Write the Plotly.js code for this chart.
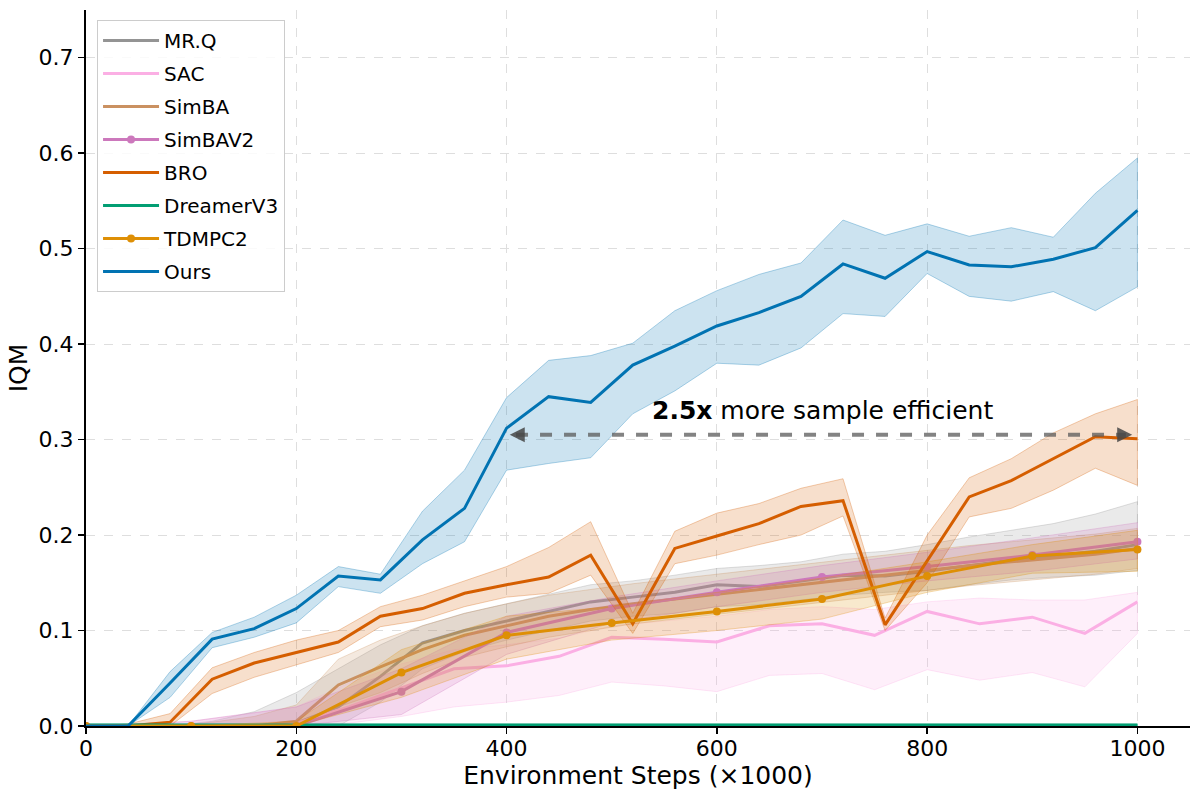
<!DOCTYPE html>
<html>
<head>
<meta charset="utf-8">
<script src="https://cdn.plot.ly/plotly-3.0.1.min.js"></script>
<style>html,body{margin:0;padding:0;background:#fff;}#chart{width:1200px;height:799px;}</style>
</head>
<body>
<div id="chart"></div>
<script>
// ---- Data ----
const steps40 = [0,40,80,120,160,200,240,280,320,360,400,440,480,520,560,600,640,680,720,760,800,840,880,920,960,1000];
const steps50 = [0,50,100,150,200,250,300,350,400,450,500,550,600,650,700,750,800,850,900,950,1000];
const steps100 = [0,100,200,300,400,500,600,700,800,900,1000];

const mrqMean  = [0,0,0,0,0,0.003,0.02,0.052,0.087,0.1,0.11,0.12,0.13,0.135,0.14,0.148,0.146,0.152,0.158,0.157,0.162,0.168,0.174,0.178,0.183,0.19];
const mrqUpper = [0,0,0,0.005,0.015,0.035,0.06,0.085,0.105,0.118,0.128,0.138,0.148,0.152,0.158,0.165,0.168,0.172,0.18,0.183,0.19,0.198,0.205,0.212,0.222,0.235];
const mrqLower = [0,0,0,0,0,0,0,0.025,0.06,0.078,0.09,0.1,0.11,0.115,0.118,0.125,0.127,0.132,0.137,0.14,0.142,0.148,0.153,0.156,0.158,0.163];

const sacMean  = [0,0,0,0,0.003,0.02,0.04,0.06,0.063,0.073,0.093,0.091,0.088,0.105,0.107,0.095,0.12,0.107,0.114,0.097,0.13];
const sacUpper = [0,0,0.005,0.012,0.02,0.045,0.065,0.08,0.085,0.092,0.105,0.11,0.115,0.122,0.125,0.122,0.13,0.134,0.132,0.132,0.14];
const sacLower = [0,0,0,0,0,0.003,0.01,0.02,0.025,0.032,0.046,0.042,0.036,0.053,0.055,0.038,0.059,0.048,0.056,0.041,0.097];

const simbaMean  = [0,0,0,0,0,0.005,0.043,0.062,0.08,0.095,0.105,0.115,0.122,0.128,0.133,0.138,0.143,0.148,0.153,0.158,0.163,0.168,0.172,0.176,0.18,0.186];
const simbaUpper = [0,0,0,0.004,0.01,0.022,0.07,0.09,0.105,0.118,0.128,0.137,0.143,0.149,0.154,0.159,0.164,0.169,0.174,0.179,0.184,0.189,0.193,0.197,0.201,0.207];
const simbaLower = [0,0,0,0,0,0,0.02,0.035,0.055,0.072,0.083,0.093,0.1,0.107,0.112,0.117,0.122,0.127,0.132,0.137,0.142,0.147,0.151,0.155,0.159,0.165];

const simbav2Mean  = [0,0,0,0.036,0.098,0.123,0.14,0.156,0.167,0.179,0.193];
const simbav2Upper = [0,0.005,0.02,0.06,0.115,0.135,0.152,0.168,0.182,0.197,0.213];
const simbav2Lower = [0,0,0,0.012,0.075,0.108,0.125,0.14,0.152,0.162,0.175];

const broMean  = [0,0,0.004,0.049,0.066,0.077,0.088,0.115,0.123,0.139,0.148,0.156,0.179,0.107,0.186,0.199,0.212,0.23,0.236,0.106,0.173,0.24,0.257,0.28,0.303,0.301];
const broUpper = [0,0.002,0.013,0.061,0.077,0.09,0.1,0.125,0.137,0.152,0.167,0.187,0.214,0.118,0.204,0.223,0.233,0.249,0.259,0.113,0.2,0.26,0.28,0.307,0.327,0.342];
const broLower = [0,0,0,0.034,0.051,0.064,0.077,0.104,0.111,0.125,0.135,0.139,0.158,0.097,0.17,0.179,0.19,0.2,0.22,0.1,0.15,0.219,0.228,0.247,0.27,0.252];

const dreamerMean  = [0.001,0.001,0.001,0.001,0.001,0.001,0.001,0.001,0.001,0.001,0.001];
const dreamerUpper = [0.002,0.002,0.002,0.002,0.002,0.002,0.002,0.002,0.002,0.002,0.002];
const dreamerLower = [0,0,0,0,0,0,0,0,0,0,0];

const tdmpcMean  = [0,0,0,0.056,0.095,0.108,0.12,0.133,0.157,0.178,0.185];
const tdmpcUpper = [0,0,0.005,0.08,0.115,0.125,0.14,0.155,0.172,0.19,0.205];
const tdmpcLower = [0,0,0,0.03,0.07,0.09,0.1,0.112,0.14,0.16,0.162];

const oursMean  = [0,0,0.045,0.091,0.102,0.123,0.157,0.153,0.195,0.228,0.312,0.345,0.339,0.378,0.398,0.419,0.433,0.45,0.484,0.469,0.497,0.483,0.481,0.489,0.501,0.540];
const oursUpper = [0,0,0.057,0.098,0.114,0.137,0.167,0.159,0.225,0.268,0.344,0.383,0.388,0.401,0.435,0.456,0.473,0.485,0.530,0.514,0.526,0.513,0.522,0.512,0.558,0.595];
const oursLower = [0,0,0.03,0.082,0.093,0.108,0.146,0.139,0.17,0.193,0.268,0.275,0.281,0.327,0.351,0.38,0.378,0.396,0.432,0.429,0.474,0.45,0.445,0.455,0.435,0.46];

// annotation
const arrowStart = 403, arrowEnd = 995, arrowLevel = 0.305;
const annoX = 700, annoY = 0.331;

// ---- Styling ----
const FONT = '"DejaVu Sans", "Liberation Sans", sans-serif';
function rgba(hex, a){
  const r = parseInt(hex.slice(1,3),16), g = parseInt(hex.slice(3,5),16), b = parseInt(hex.slice(5,7),16);
  return `rgba(${r},${g},${b},${a})`;
}

const series = [
  {name:'MR.Q',      x:steps40,  m:mrqMean,     u:mrqUpper,     l:mrqLower,     c:'#949494', mk:false},
  {name:'SAC',       x:steps50,  m:sacMean,     u:sacUpper,     l:sacLower,     c:'#fbafe4', mk:false},
  {name:'SimBA',     x:steps40,  m:simbaMean,   u:simbaUpper,   l:simbaLower,   c:'#ca9161', mk:false},
  {name:'SimBAV2',   x:steps100, m:simbav2Mean, u:simbav2Upper, l:simbav2Lower, c:'#cc78bc', mk:true},
  {name:'BRO',       x:steps40,  m:broMean,     u:broUpper,     l:broLower,     c:'#d55e00', mk:false},
  {name:'DreamerV3', x:steps100, m:dreamerMean, u:dreamerUpper, l:dreamerLower, c:'#029e73', mk:false},
  {name:'TDMPC2',    x:steps100, m:tdmpcMean,   u:tdmpcUpper,   l:tdmpcLower,   c:'#de8f05', mk:true},
  {name:'Ours',      x:steps40,  m:oursMean,    u:oursUpper,    l:oursLower,    c:'#0173b2', mk:false}
];

const traces = [];
series.forEach(s => {
  traces.push({
    type:'scatter', mode:'lines',
    x: s.x.concat(s.x.slice().reverse()),
    y: s.u.concat(s.l.slice().reverse()),
    fill:'toself', fillcolor: rgba(s.c, 0.2),
    line:{color: rgba(s.c, 0.3), width:1},
    showlegend:false, hoverinfo:'skip', legendgroup:s.name
  });
  traces.push({
    type:'scatter', mode: s.mk ? 'lines+markers' : 'lines',
    name: s.name, x: s.x, y: s.m,
    line:{color:s.c, width:3},
    marker:{color:s.c, size:8},
    legendgroup:s.name
  });
});

const layout = {
  width:1200, height:799,
  margin:{l:86, r:10, t:10, b:73},
  paper_bgcolor:'#fff', plot_bgcolor:'#fff',
  font:{family:FONT, size:20, color:'#000'},
  showlegend:true,
  legend:{
    x:0.01, y:0.986, xanchor:'left', yanchor:'top',
    bgcolor:'rgba(255,255,255,0.85)', bordercolor:'#cccccc', borderwidth:1,
    font:{family:FONT, size:20, color:'#000'},
    tracegroupgap:4, itemwidth:56
  },
  xaxis:{
    range:[0,1050], tickvals:[0,200,400,600,800,1000],
    showline:true, linecolor:'#000', linewidth:2,
    ticks:'outside', ticklen:6, tickwidth:1.5, tickcolor:'#000',
    showgrid:true, gridcolor:'#dedede', griddash:'dash', gridwidth:1,
    zeroline:false, ticklabelstandoff:-4,
    tickfont:{family:FONT, size:22, color:'#000'},
    title:{text:'Environment Steps (×1000)', font:{family:FONT, size:25, color:'#000'}, standoff:4}
  },
  yaxis:{
    range:[0,0.75], tickvals:[0,0.1,0.2,0.3,0.4,0.5,0.6,0.7], tickformat:'.1f',
    showline:true, linecolor:'#000', linewidth:2,
    ticks:'outside', ticklen:6, tickwidth:1.5, tickcolor:'#000',
    showgrid:true, gridcolor:'#dedede', griddash:'dash', gridwidth:1,
    zeroline:false,
    tickfont:{family:FONT, size:22, color:'#000'},
    title:{text:'IQM', font:{family:FONT, size:25, color:'#000'}, standoff:4}
  },
  shapes:[{
    type:'line', xref:'x', yref:'y', x0:arrowStart+6, x1:arrowEnd-6, y0:arrowLevel, y1:arrowLevel,
    line:{color:'rgba(90,90,90,0.75)', width:4, dash:'dash'}, layer:'above'
  }],
  annotations:[
    {x:arrowStart, y:arrowLevel, xref:'x', yref:'y', ax:12, ay:0, text:'', showarrow:true,
     arrowhead:2, arrowsize:1, arrowwidth:3, arrowcolor:'rgba(70,70,70,0.85)'},
    {x:arrowEnd, y:arrowLevel, xref:'x', yref:'y', ax:-12, ay:0, text:'', showarrow:true,
     arrowhead:2, arrowsize:1, arrowwidth:3, arrowcolor:'rgba(70,70,70,0.85)'},
    {x:annoX, y:annoY, xref:'x', yref:'y', text:'<b>2.5x</b> more sample efficient', showarrow:false,
     font:{family:FONT, size:25, color:'#000'}, xanchor:'center', yanchor:'middle'}
  ]
};

Plotly.newPlot('chart', traces, layout, {displayModeBar:false, staticPlot:true});
</script>
</body>
</html>
